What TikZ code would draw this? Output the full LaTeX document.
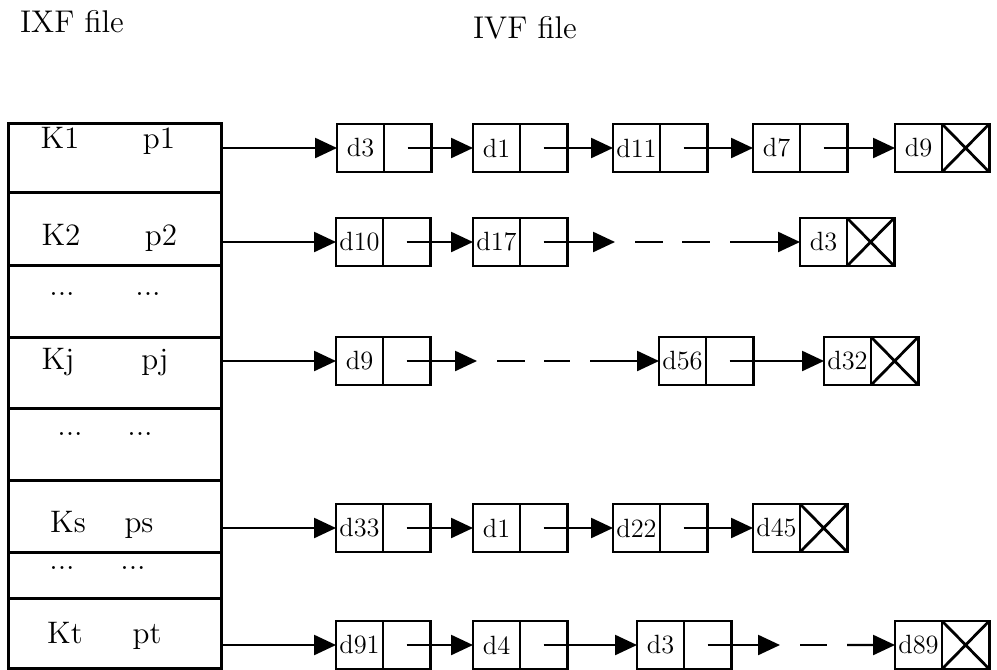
\documentclass[tikz,border=0pt]{standalone}
\usepackage{tikz}
\usetikzlibrary{arrows.meta,positioning}

\newcommand{\tdots}{...}

\begin{document}
\begin{tikzpicture}[
  x=0.5pt,
  y=-0.5pt,
  frame/.style={line width=1.5pt},
  title/.style={font=\fontsize{14.4}{17}\selectfont, scale=1.09, anchor=base, inner sep=0pt},
  entry/.style={font=\fontsize{14.4}{17}\selectfont, scale=1.08, anchor=base, inner sep=0pt},
  datacell/.style={
    draw,
    line width=1.4pt,
    scale=1.1,
    minimum width=21.4pt,
    minimum height=21.8pt,
    inner sep=0pt,
    outer sep=0pt,
    font=\fontsize{12}{14}\selectfont
  },
  nullcell/.style={
    datacell,
    path picture={
      \draw[line width=1.4pt]
        (path picture bounding box.north west) -- (path picture bounding box.south east)
        (path picture bounding box.south west) -- (path picture bounding box.north east);
    }
  },
  link/.style={-{Triangle[length=11pt,width=10pt]}, line width=1.2pt},
  gap/.style={line width=1.2pt, dash pattern=on 14pt off 9.5pt,
    shorten <=10pt, shorten >=10pt}
]
  \useasboundingbox (0,0) rectangle (997,670);

  % headings
  \node[title] (ixf) at (72,32) {IXF file};
  \node[title] (ivf) at (525,38) {IVF file};

  % index file
  \draw[frame] (8,123) rectangle (221,668);
  \foreach \ypos in {192,265,337,408,480,552,598}
    \draw[frame] (8,\ypos) -- (221,\ypos);
  \foreach \kx/\px/\ypos/\klab/\plab [count=\i] in {
      60/159/148/K1/p1, 61/161/245/K2/p2, 62/148/295/\tdots/\tdots,
      58/155/369/Kj/pj, 70/140/435/\tdots/\tdots, 68/139/532/Ks/ps,
      62/133/569/\tdots/\tdots, 65/147/643/Kt/pt} {
    \node[entry] (key\i) at (\kx,\ypos) {\klab};
    \node[entry] (ptr\i) at (\px,\ypos) {\plab};
  }
  \coordinate (out1) at (221,148);
  \coordinate (out2) at (221,242);
  \coordinate (out3) at (221,361);
  \coordinate (out4) at (221,528);
  \coordinate (out5) at (221,645);

  % list of K1
  \foreach \xpos/\lab [count=\i] in {337/d3,473/d1,613/d11,753/d7} {
    \node[datacell, anchor=west] (a\i) at (\xpos,148) {\lab};
    \node[datacell, right=0pt of a\i] (pa\i) {};
  }
  \node[datacell, anchor=west] (a5) at (895,148) {d9};
  \node[nullcell, right=0pt of a5] (pa5) {};
  \draw[link] (out1) -- (a1);
  \foreach \i/\j in {1/2,2/3,3/4,4/5}
    \draw[link] (pa\i.center) -- (a\j);

  % list of K2
  \foreach \xpos/\lab [count=\i] in {336/d10,473/d17} {
    \node[datacell, anchor=west] (b\i) at (\xpos,242) {\lab};
    \node[datacell, right=0pt of b\i] (pb\i) {};
  }
  \node[datacell, anchor=west] (b3) at (800,242) {d3};
  \node[nullcell, right=0pt of b3] (pb3) {};
  \coordinate (gb1) at (615,242);
  \coordinate (gb2) at (730,242);
  \draw[link] (out2) -- (b1);
  \draw[link] (pb1.center) -- (b2);
  \draw[link] (pb2.center) -- (gb1);
  \draw[gap] (gb1) -- (gb2);
  \draw[link] (gb2) -- (b3);

  % list of Kj
  \foreach \xpos/\lab [count=\i] in {336/d9,659/d56} {
    \node[datacell, anchor=west] (j\i) at (\xpos,361) {\lab};
    \node[datacell, right=0pt of j\i] (pj\i) {};
  }
  \node[datacell, anchor=west] (j3) at (824,361) {d32};
  \node[nullcell, right=0pt of j3] (pj3) {};
  \coordinate (gj1) at (477,361);
  \coordinate (gj2) at (590,361);
  \draw[link] (out3) -- (j1);
  \draw[link] (pj1.center) -- (gj1);
  \draw[gap] (gj1) -- (gj2);
  \draw[link] (gj2) -- (j2);
  \draw[link] (pj2.center) -- (j3);

  % list of Ks
  \foreach \xpos/\lab [count=\i] in {336/d33,473/d1,613/d22} {
    \node[datacell, anchor=west] (s\i) at (\xpos,528) {\lab};
    \node[datacell, right=0pt of s\i] (ps\i) {};
  }
  \node[datacell, anchor=west] (s4) at (753,528) {d45};
  \node[nullcell, right=0pt of s4] (ps4) {};
  \draw[link] (out4) -- (s1);
  \foreach \i/\j in {1/2,2/3,3/4}
    \draw[link] (ps\i.center) -- (s\j);

  % list of Kt
  \foreach \xpos/\lab [count=\i] in {336/d91,473/d4,637/d3} {
    \node[datacell, anchor=west] (t\i) at (\xpos,645) {\lab};
    \node[datacell, right=0pt of t\i] (pt\i) {};
  }
  \node[datacell, anchor=west] (t4) at (895,645) {d89};
  \node[nullcell, right=0pt of t4] (pt4) {};
  \coordinate (gt1) at (780,645);
  \coordinate (gt2) at (847,645);
  \draw[link] (out5) -- (t1);
  \foreach \i/\j in {1/2,2/3}
    \draw[link] (pt\i.center) -- (t\j);
  \draw[link] (pt3.center) -- (gt1);
  \draw[gap] (gt1) -- (gt2);
  \draw[link] (gt2) -- (t4);
\end{tikzpicture}
\end{document}
